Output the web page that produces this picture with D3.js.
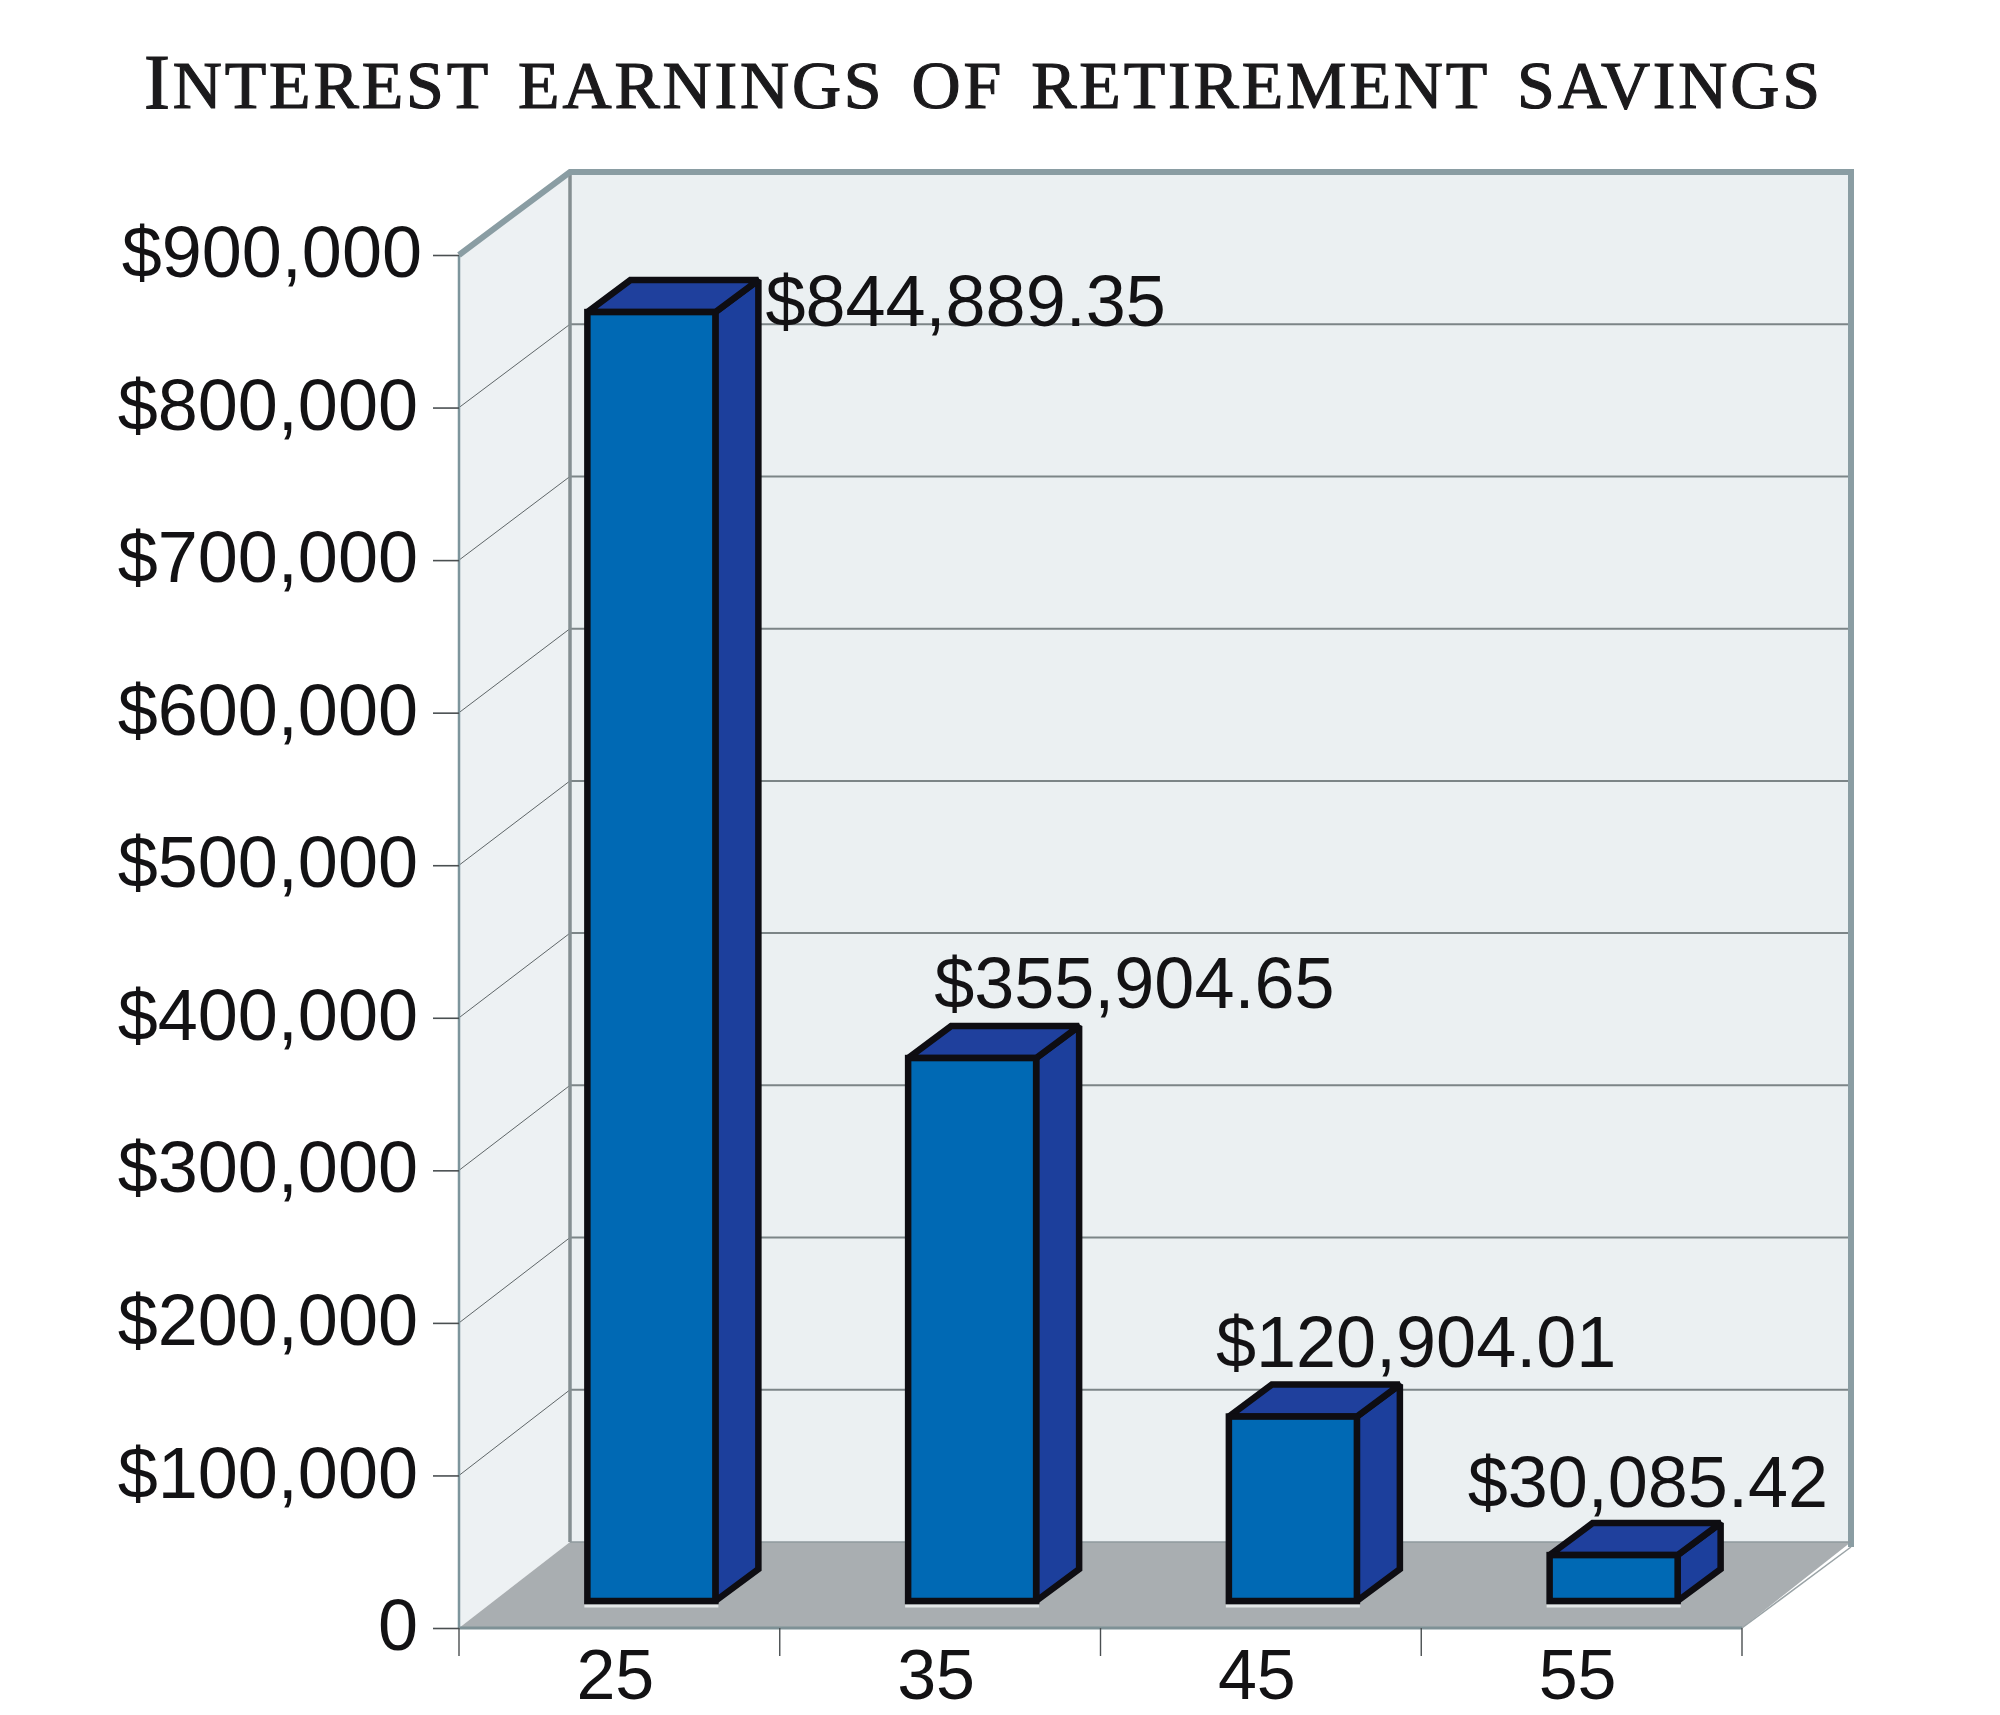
<!DOCTYPE html>
<html>
<head>
<meta charset="utf-8">
<script src="https://cdn.jsdelivr.net/npm/d3@7/dist/d3.min.js"></script>
<style>
html,body{margin:0;padding:0;background:#fff}
svg{display:block}
text{font-family:"Liberation Sans",Arial,sans-serif;fill:#131214}
text.title{font-family:"Liberation Serif",serif;fill:#1b1a1c}
</style>
</head>
<body>
<svg id="c" width="2000" height="1715"></svg>
<script>
const ages = ["25", "35", "45", "55"];
const earnings = [844889.35, 355904.65, 120904.01, 30085.42];
const earningLabels = ["$844,889.35", "$355,904.65", "$120,904.01", "$30,085.42"];
const valueTicks = [0, 100000, 200000, 300000, 400000, 500000, 600000, 700000, 800000, 900000];
const titleHead = "I";
const titleRest = "nterest earnings of retirement savings";

// layout
const F = {l: 459, r: 1742, b: 1628, t: 255};     // front plane
const B = {l: 570, r: 1851, b: 1542, t: 172};     // back plane
const barW = 128, barShift = 32, barBase = 1601, barDx = 43, barDy = 32;
const labelOff = [[178, 14], [26, -50], [-13, -50], [-82, -48]]; // from front-left/top of bar
const fmt = d => d === 0 ? "0" : "$" + d3.format(",")(d);

const svg = d3.select("#c");
const x = d3.scaleBand().domain(ages).range([F.l, F.r]).padding(0);
const y = d3.scaleLinear().domain([0, 900000]).range([F.b, F.t]);
const yBack = d3.scaleLinear().domain([0, 900000]).range([B.b, B.t]);
const line = d3.line();
const poly = (pts, fill) => svg.append("path").attr("d", line(pts) + "Z").attr("fill", fill);

// title
const title = svg.append("text").attr("class", "title")
  .attr("x", 144).attr("y", 108)
  .attr("textLength", 1676).attr("lengthAdjust", "spacing")
  .attr("stroke", "#1b1a1c").attr("stroke-width", 1.2);
title.append("tspan").attr("font-size", 78).text(titleHead);
title.append("tspan").attr("font-size", 97).style("font-variant", "small-caps").text(titleRest);

// walls and floor
poly([[F.l, F.t], [B.l, B.t], [B.l, B.b], [F.l, F.b]], "#edf1f3");
poly([[B.l, B.t], [B.r, B.t], [B.r, B.b], [B.l, B.b]], "#ebf0f2");
poly([[F.l, F.b], [B.l, B.b], [B.r, B.b], [F.r, F.b]], "#a9aeb1");

// gridlines
const grid = valueTicks.filter(v => v > 0 && v < 900000);
svg.append("g").selectAll("line").data(grid).join("line")
  .attr("x1", B.l).attr("x2", B.r - 2)
  .attr("y1", d => yBack(d)).attr("y2", d => yBack(d))
  .attr("stroke", "#7c8587").attr("stroke-width", 2);
svg.append("g").selectAll("line").data(grid).join("line")
  .attr("x1", F.l).attr("x2", B.l)
  .attr("y1", d => y(d)).attr("y2", d => yBack(d))
  .attr("stroke", "#5f6668").attr("stroke-width", 1);

// frame
const frame = svg.append("g").attr("fill", "none");
frame.append("path").attr("d", line([[F.l, F.b], [F.l, F.t]])).attr("stroke", "#7d959c").attr("stroke-width", 2.5);
frame.append("path").attr("d", line([[B.l, B.b], [B.l, B.t]])).attr("stroke", "#858f92").attr("stroke-width", 3.5);
frame.append("path").attr("d", line([[F.l, F.t], [B.l, B.t], [B.r, B.t], [B.r, B.b + 5]])).attr("stroke", "#8a9da3").attr("stroke-width", 6);
frame.append("path").attr("d", line([[F.r, F.b], [B.r, B.b + 5]])).attr("stroke", "#9aa3a6").attr("stroke-width", 1.5);
frame.append("path").attr("d", line([[B.l, B.b], [B.r, B.b]])).attr("stroke", "#8f9a9e").attr("stroke-width", 1.5);
frame.append("path").attr("d", line([[F.l, F.b], [F.r, F.b]])).attr("stroke", "#7e9196").attr("stroke-width", 3);

// y axis
const yAxis = svg.append("g").attr("transform", `translate(${F.l},0)`)
  .call(d3.axisLeft(y).tickValues(valueTicks).tickSize(26).tickPadding(15).tickFormat(fmt));
yAxis.select(".domain").remove();
yAxis.selectAll("line").attr("stroke", "#4a4f51").attr("stroke-width", 1.6);
yAxis.selectAll("text").attr("font-size", 72).attr("font-family", '"Liberation Sans",sans-serif')
  .attr("fill", "#131214").attr("dy", "0.3em")
  .attr("dx", d => d === 900000 ? 4 : 0);

// x axis: labels at band centres, separators at band edges
const xAxis = svg.append("g").attr("transform", `translate(0,${F.b})`)
  .call(d3.axisBottom(x).tickSize(0).tickPadding(21));
xAxis.select(".domain").remove();
xAxis.selectAll("text").attr("font-size", 70).attr("font-family", '"Liberation Sans",sans-serif')
  .attr("fill", "#131214").attr("dx", -4).attr("dy", "0.71em");
svg.append("g").selectAll("line")
  .data(ages.map(a => x(a)).concat(F.r)).join("line")
  .attr("x1", d => d).attr("x2", d => d)
  .attr("y1", F.b).attr("y2", F.b + 28)
  .attr("stroke", "#4a4f51").attr("stroke-width", 1.4);

// bars
const bars = svg.append("g").attr("stroke", "#0e0d12").attr("stroke-width", 6.5)
  .attr("stroke-linejoin", "miter").attr("stroke-miterlimit", 2);
ages.forEach((a, i) => {
  const l = x(a) + x.bandwidth() / 2 + barShift - barW / 2;
  const r = l + barW;
  const h = y(0) - y(earnings[i]);
  const top = barBase - h;
  const g = bars.append("g");
  // pale edge below the bar on the floor
  g.append("path").attr("d", line([[l - 3, barBase + 5], [r + 3, barBase + 5]]))
    .attr("stroke", "#e4e7e8").attr("stroke-width", 3);
  g.append("path").attr("d", line([[r, top], [r + barDx, top - barDy], [r + barDx, barBase - barDy], [r, barBase]]) + "Z").attr("fill", "#1c3f9c");
  g.append("path").attr("d", line([[l, top], [l + barDx, top - barDy], [r + barDx, top - barDy], [r, top]]) + "Z").attr("fill", "#1f409d");
  g.append("rect").attr("x", l).attr("y", top).attr("width", barW).attr("height", h).attr("fill", "#0069b4");
});

// value labels
svg.append("g").selectAll("text").data(earningLabels).join("text")
  .attr("font-size", 72)
  .attr("x", (d, i) => x(ages[i]) + x.bandwidth() / 2 + barShift - barW / 2 + labelOff[i][0])
  .attr("y", (d, i) => barBase - (y(0) - y(earnings[i])) + labelOff[i][1])
  .text(d => d);
</script>
</body>
</html>
